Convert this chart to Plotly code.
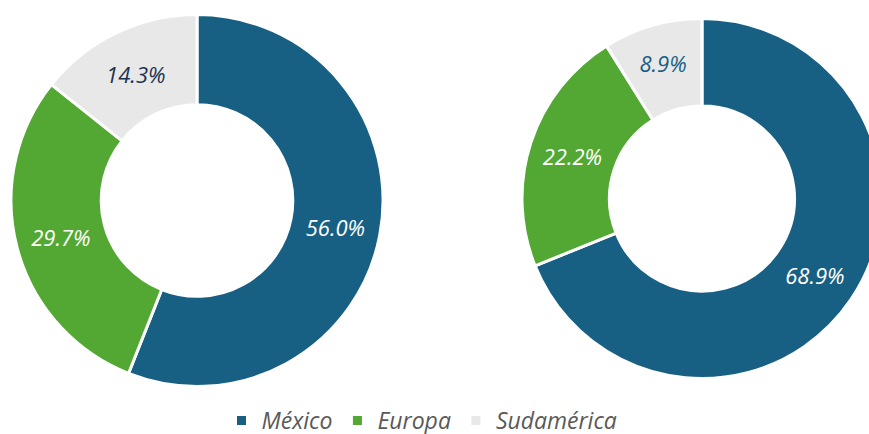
import plotly.graph_objects as go

categories = ["México", "Europa", "Sudamérica"]
left_values = [56.0, 29.7, 14.3]
right_values = [68.9, 22.2, 8.9]

colors = ["#176084", "#52a833", "#e8e8e8"]
left_text_colors = ["#ffffff", "#ffffff", "#1c3150"]
right_text_colors = ["#ffffff", "#ffffff", "#176084"]

W, H = 890, 470
B = 68              # bottom margin reserved for legend
PH = H - B          # plot-area height (402)
FONT = "Open Sans"

def dom(cx, cy, r):
    return dict(x=[(cx - r) / W, (cx + r) / W],
                y=[(PH - (cy + r)) / PH, (PH - (cy - r)) / PH])

fig = go.Figure()
fig.add_trace(go.Pie(
    labels=categories, values=left_values, hole=0.515, sort=False,
    direction="clockwise", rotation=0,
    marker=dict(colors=colors, line=dict(color="white", width=3)),
    texttemplate="%{value:.1f}%", textposition="inside",
    insidetextorientation="horizontal",
    textfont=dict(family=FONT, size=22, style="italic", color=left_text_colors),
    domain=dom(197, 200.5, 186), showlegend=True,
))
fig.add_trace(go.Pie(
    labels=categories, values=right_values, hole=0.514, sort=False,
    direction="clockwise", rotation=0,
    marker=dict(colors=colors, line=dict(color="white", width=3)),
    texttemplate="%{value:.1f}%", textposition="inside",
    insidetextorientation="horizontal",
    textfont=dict(family=FONT, size=22, style="italic", color=right_text_colors),
    domain=dom(702, 198.5, 180), showlegend=False,
))
fig.update_layout(
    width=W, height=H,
    margin=dict(l=0, r=0, t=0, b=B),
    paper_bgcolor="white", plot_bgcolor="white",
    legend=dict(orientation="h", x=422 / W, xanchor="center",
                y=(PH - 399) / PH, yanchor="top", itemwidth=30,
                font=dict(family=FONT, size=23, style="italic", color="#595959"),
                bgcolor="rgba(0,0,0,0)"),
)
fig.write_html("out.html", config={"displayModeBar": False},
               post_script="document.body.style.margin='0';document.body.style.overflow='hidden';")
